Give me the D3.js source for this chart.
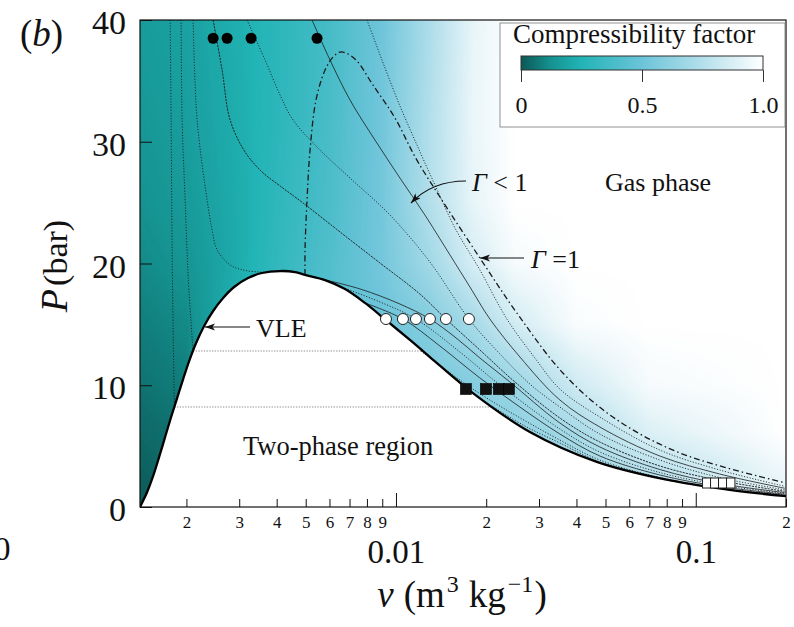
<!DOCTYPE html>
<html><head><meta charset="utf-8">
<script src="https://cdn.jsdelivr.net/npm/d3@7"></script>
<style>
body{margin:0;background:#fff}
svg{display:block}
text{font-family:"Liberation Serif","Times New Roman",serif;fill:#111}
</style>
</head><body>
<svg id="chart" width="794" height="627"></svg>
<script>
// ---------------- DATA (v in m^3/kg, P in bar) ----------------
const yTicks = [0, 10, 20, 30, 40];
const xMajorTicks = [0.01, 0.1];
const xMinorTicks = [0.002,0.003,0.004,0.005,0.006,0.007,0.008,0.009,0.02,0.03,0.04,0.05,0.06,0.07,0.08,0.09,0.2];
const cbarTicks = [0, 0.5, 1.0];

// VLE saturation dome
const vleV = [0.0014,0.001479,0.001549,0.001622,0.001698,0.001778,0.001862,0.00195,0.002042,0.002154,0.002291,0.002455,0.002651,0.002884,0.003211,0.003575,0.004105,0.004607,0.004973,0.0058,0.006761,0.007882,0.009333,0.01113,0.01298,0.01806,0.02797,0.04677,0.07762,0.1298,0.2];
const vleP = [0,1.23,2.55,4.11,5.75,7.39,8.95,10.51,11.99,13.47,14.87,16.10,17.17,18.07,18.81,19.22,19.38,19.30,19.06,18.64,17.9,16.76,15.28,13.72,12.32,9.36,6.16,3.70,2.30,1.40,0.89];

// two-phase plateaus
const plateauP = [12.81, 8.21];
const plateauVl = [0.002104, 0.001823];
const plateauVg = [0.01212, 0.02113];

// isotherms
const isoA_v = [0.001765,0.001778,0.001792,0.001810,0.001823];
const isoA_P = [40,31.79,21.11,12.9,8.21];
const isoB_v = [0.00192,0.001935,0.00198,0.002030,0.002104];
const isoB_P = [40,31.79,25.22,18.64,12.81];
const isoC_v = [0.002105,0.002171,0.002344,0.002436,0.002532,0.002797,0.00309,0.003467,0.003744];
const isoC_P = [40,31.79,25.22,22.75,21.11,19.88,19.47,19.30,19.26];
const isoAv_v = [0.02113,0.02692,0.03521,0.04786,0.07586,0.1202,0.1981];
const isoAv_P = [8.21,6.65,5.26,3.70,2.34,1.52,0.94];
const isoBv_v = [0.01212,0.01514,0.02057,0.03521,0.04786,0.07586,0.1202,0.1981];
const isoBv_P = [12.81,11.01,8.79,5.50,3.86,2.42,1.56,0.99];
const isoL2_v = [0.007881,0.01055,0.01402,0.01905,0.02591,0.03521,0.04786,0.07586,0.1202,0.1981];
const isoL2_P = [16.76,15.44,13.22,10.60,8.21,6.00,4.19,2.63,1.68,1.05];
const isoL3_v = [0.006507,0.008845,0.01166,0.01634,0.02222,0.03521,0.04786,0.07586,0.1202,0.1981];
const isoL3_P = [18.11,16.84,15.44,12.73,10.02,6.41,4.52,2.83,1.81,1.12];
const isoL4_v = [0.00537,0.007586,0.01031,0.01298,0.01573,0.01905,0.02399,0.03521,0.04786,0.07586,0.1202,0.1981];
const isoL4_P = [18.85,17.91,16.67,15.44,13.96,12.24,10.27,6.90,4.93,3.08,1.93,1.19];
const isoD_v = [0.002455,0.00263,0.002797,0.003138,0.003575,0.004105,0.004898,0.006507,0.008845,0.01202,0.01468,0.01905,0.02493,0.03521,0.04786,0.07586,0.1202,0.1981];
const isoD_P = [40,35.89,31.79,29.16,27.52,26.37,24.97,22.59,20.04,17.49,15.44,12.90,10.27,7.31,5.34,3.37,2.18,1.29];
const isoE_v = [0.003186,0.003659,0.004105,0.004536,0.00558,0.007026,0.00955,0.01298,0.01751,0.02222,0.02797,0.03521,0.04786,0.07586,0.1202,0.1981];
const isoE_P = [40,36.71,33.84,31.79,29.32,27.02,23.98,20.12,15.44,12.57,10.10,8.21,5.99,3.86,2.42,1.41];
const isoF_v = [0.005248,0.006026,0.007026,0.008511,0.01031,0.01249,0.01514,0.01765,0.02057,0.02591,0.03521,0.04786,0.07586,0.1202,0.1981];
const isoF_P = [40,36.71,33.43,30.14,27.02,23.98,20.70,18.07,15.44,12.32,8.79,6.57,4.19,2.71,1.54];
const isoG_v = [0.008004,0.009191,0.01031,0.01175,0.01349,0.01573,0.01905,0.02344,0.02906,0.03521,0.04786,0.07586,0.1202,0.1981];
const isoG_P = [40,36.06,32.94,29.73,26.45,22.92,19.47,15.44,12.24,9.69,7.39,4.68,3.04,1.70];

// Gamma = 1 locus
const gammaV = [0.004973,0.004973,0.00505,0.005168,0.005412,0.0058,0.006166,0.006507,0.006918,0.007413,0.00838,0.009925,0.01164,0.01402,0.01905,0.02532,0.03603,0.05289,0.08845,0.1981];
const gammaP = [19.06,21.11,25.22,29.32,33.43,35.89,36.96,37.37,37.21,36.63,34.66,31.95,28.66,25.46,20.45,15.93,11.01,7.39,4.44,2.0];

// markers
const blackDotsV = [0.002455,0.002733,0.003286,0.005454];
const blackDotsP = [38.5,38.5,38.5,38.5];
const whiteCirclesV = [0.009261,0.01055,0.01166,0.01298,0.01468,0.01751];
const whiteCirclesP = [15.44,15.44,15.44,15.44,15.44,15.44];
const blackSquaresV = [0.01711,0.01995,0.02204,0.0238];
const blackSquaresP = [9.69,9.69,9.69,9.69];
const whiteSquaresV = [0.1088,0.1157,0.123,0.1308];
const whiteSquaresP = [1.97,1.97,1.97,1.97];

// compressibility factor field (estimated grid)
const gridV = [0.0014,0.002,0.003,0.004,0.006,0.009,0.013,0.018,0.025,0.04,0.07,0.2];
const gridP = [40,32,25,20,15,10,6,3,0];
const zRow40 = [0.16,0.18,0.23,0.28,0.37,0.51,0.73,0.92,1,1,1,1];
const zRow32 = [0.145,0.17,0.225,0.28,0.38,0.52,0.75,0.93,1,1,1,1];
const zRow25 = [0.125,0.155,0.22,0.29,0.39,0.53,0.75,0.92,1,1,1,1];
const zRow20 = [0.105,0.135,0.22,0.30,0.41,0.53,0.69,0.86,0.97,1,1,1];
const zRow15 = [0.08,0.105,0.25,0.35,0.43,0.50,0.58,0.70,0.85,0.98,1,1];
const zRow10 = [0.055,0.08,0.30,0.38,0.45,0.52,0.55,0.58,0.66,0.84,0.97,1];
const zRow6  = [0.035,0.055,0.30,0.40,0.50,0.55,0.58,0.60,0.62,0.70,0.88,1];
const zRow3  = [0.02,0.04,0.30,0.40,0.50,0.55,0.60,0.62,0.65,0.68,0.76,0.95];
const zRow0  = [0.0,0.03,0.30,0.40,0.50,0.55,0.60,0.65,0.70,0.75,0.80,0.88];
const zStops = [0, 0.12, 0.25, 0.5, 0.75, 1];
const zColors = ["#0b5856","#14918f","#22b4b6","#6cc4d9","#b3dfeb","#ffffff"];

// ---------------- DRAWING ----------------
const svg = d3.select("#chart");
const L = 140, R = 786, T = 20, B = 507;
const x = d3.scaleLog().domain([0.0014, 0.2]).range([L, R]);
const y = d3.scaleLinear().domain([0, 40]).range([B, T]);
const cmap = d3.scaleLinear().domain(zStops).range(zColors).clamp(true);

// heatmap raster
const zGrid = [zRow40,zRow32,zRow25,zRow20,zRow15,zRow10,zRow6,zRow3,zRow0];
const cw = R - L, ch = B - T;
const canvas = document.createElement("canvas");
canvas.width = cw; canvas.height = ch;
const ctx = canvas.getContext("2d");
const img = ctx.createImageData(cw, ch);
const lv = gridV.map(Math.log10);
const ci = d3.scaleLinear().domain(lv).range(d3.range(lv.length)).clamp(true);
const ri = d3.scaleLinear().domain(gridP).range(d3.range(gridP.length)).clamp(true);
const lut = d3.range(256).map(k => d3.rgb(cmap(k/255)));
for (let j = 0; j < ch; j++) {
  const r = ri(y.invert(T + j + 0.5));
  const r0 = Math.min(Math.floor(r), gridP.length - 2), fr = r - r0;
  for (let i = 0; i < cw; i++) {
    const c = ci(Math.log10(x.invert(L + i + 0.5)));
    const c0 = Math.min(Math.floor(c), lv.length - 2), fc = c - c0;
    const z = (1-fr)*((1-fc)*zGrid[r0][c0] + fc*zGrid[r0][c0+1]) + fr*((1-fc)*zGrid[r0+1][c0] + fc*zGrid[r0+1][c0+1]);
    const col = lut[Math.max(0, Math.min(255, Math.round(z*255)))];
    const p = (j*cw + i)*4;
    img.data[p] = col.r; img.data[p+1] = col.g; img.data[p+2] = col.b; img.data[p+3] = 255;
  }
}
ctx.putImageData(img, 0, 0);
svg.append("image").attr("x", L).attr("y", T).attr("width", cw).attr("height", ch)
  .attr("preserveAspectRatio", "none").attr("href", canvas.toDataURL());

const defs = svg.append("defs");
defs.append("clipPath").attr("id", "clip").append("rect").attr("x", L).attr("y", T).attr("width", cw).attr("height", ch);
defs.append("marker").attr("id", "arr").attr("markerUnits", "userSpaceOnUse")
  .attr("markerWidth", 11).attr("markerHeight", 8).attr("refX", 10).attr("refY", 3.5).attr("orient", "auto")
  .append("path").attr("d", "M0,0 L10,3.5 L0,7 L2.5,3.5 z").attr("fill", "#111");

const g = svg.append("g").attr("clip-path", "url(#clip)");
const vle = d3.zip(vleV, vleP);
const domeCurve = d3.curveCatmullRom.alpha(0.5);

// white two-phase / below-dome region
g.append("path").attr("d", d3.area().x(d => x(d[0])).y0(y(0)).y1(d => y(d[1])).curve(domeCurve)(vle))
  .attr("fill", "#fff");

// plateau lines
plateauP.forEach((p, k) => {
  g.append("line").attr("x1", x(plateauVl[k])).attr("x2", x(plateauVg[k])).attr("y1", y(p)).attr("y2", y(p))
    .attr("stroke", "#8a8a8a").attr("stroke-width", 1.1).attr("stroke-dasharray", "1.3,1.4");
});

const lineGen = d3.line().x(d => x(d[0])).y(d => y(d[1])).curve(d3.curveCatmullRom.alpha(0.5));
function iso(vs, ps, dash, w) {
  g.append("path").attr("d", lineGen(d3.zip(vs, ps))).attr("fill", "none")
    .attr("stroke", "#1a1a1a").attr("stroke-width", w || 0.9).attr("stroke-dasharray", dash || null);
}
const dot = "1.1,1.7";
iso(isoA_v, isoA_P, dot);
iso(isoB_v, isoB_P, dot);
iso(isoC_v, isoC_P, dot);
iso(isoAv_v, isoAv_P, dot);
iso(isoBv_v, isoBv_P, dot);
iso(isoL2_v, isoL2_P, null, 0.8);
iso(isoL3_v, isoL3_P, dot);
iso(isoL4_v, isoL4_P, null, 0.8);
iso(isoD_v, isoD_P, "2.2,1", 0.9);
iso(isoE_v, isoE_P, dot);
iso(isoF_v, isoF_P, null, 0.8);
iso(isoG_v, isoG_P, dot);
// Gamma = 1 dash-dot
iso(gammaV, gammaP, "6,3,1.5,3", 1.3);

// dome
g.append("path").attr("d", d3.line().x(d => x(d[0])).y(d => y(d[1])).curve(domeCurve)(vle))
  .attr("fill", "none").attr("stroke", "#000").attr("stroke-width", 2.3);

// markers
d3.zip(blackDotsV, blackDotsP).forEach(d => g.append("circle").attr("cx", x(d[0])).attr("cy", y(d[1])).attr("r", 5.5).attr("fill", "#000"));
d3.zip(whiteCirclesV, whiteCirclesP).forEach(d => g.append("circle").attr("cx", x(d[0])).attr("cy", y(d[1])).attr("r", 5.5).attr("fill", "#fff").attr("stroke", "#222").attr("stroke-width", 1));
d3.zip(blackSquaresV, blackSquaresP).forEach(d => g.append("rect").attr("x", x(d[0]) - 5.5).attr("y", y(d[1]) - 5.5).attr("width", 11).attr("height", 11).attr("fill", "#111").attr("stroke", "#000").attr("stroke-width", 0.6));
d3.zip(whiteSquaresV, whiteSquaresP).forEach(d => g.append("rect").attr("x", x(d[0]) - 4.2).attr("y", y(d[1]) - 5).attr("width", 8.4).attr("height", 10).attr("fill", "#fff").attr("stroke", "#222").attr("stroke-width", 1));

// frame
svg.append("rect").attr("x", L).attr("y", T).attr("width", cw).attr("height", ch).attr("fill", "none").attr("stroke", "#111").attr("stroke-width", 1.2);

// axes
const yAxis = svg.append("g").attr("transform", `translate(${L},0)`)
  .call(d3.axisLeft(y).tickValues(yTicks).tickSize(-12).tickPadding(14).tickFormat(d3.format("d")));
yAxis.select(".domain").remove();
yAxis.selectAll("text").style("font-size", "34px").attr("dy", "0.4em").style("font-family", '"Liberation Serif",serif');

const xMin = svg.append("g").attr("transform", `translate(0,${B})`)
  .call(d3.axisBottom(x).tickValues(xMinorTicks).tickSize(-8).tickPadding(9).tickFormat(d => String(Math.round(d / Math.pow(10, Math.floor(Math.log10(d) + 1e-9))))));
xMin.select(".domain").remove();
xMin.selectAll("text").style("font-size", "17px").style("font-family", '"Liberation Serif",serif');

const xMaj = svg.append("g").attr("transform", `translate(0,${B})`)
  .call(d3.axisBottom(x).tickValues(xMajorTicks).tickSize(-14).tickPadding(33).tickFormat(d => String(d)));
xMaj.select(".domain").remove();
xMaj.selectAll("text").style("font-size", "33px").style("font-family", '"Liberation Serif",serif');
svg.selectAll(".tick line").attr("stroke", "#111");

// cut-off label at far left
svg.append("text").attr("x", -6).attr("y", 560).style("font-size", "33px").text("0");

// axis titles
const xt = svg.append("text").attr("x", 462).attr("y", 607).attr("text-anchor", "middle").style("font-size", "37px");
xt.append("tspan").style("font-style", "italic").text("v");
xt.append("tspan").attr("dx", 10).text("(m");
xt.append("tspan").attr("dy", -15).attr("dx", 2).style("font-size", "24px").text("3");
xt.append("tspan").attr("dy", 15).attr("dx", 10).text("kg");
xt.append("tspan").attr("dy", -15).attr("dx", 2).style("font-size", "24px").text("\u22121");
xt.append("tspan").attr("dy", 15).attr("dx", 1).text(")");

const yt = svg.append("text").attr("transform", "translate(67,266) rotate(-90)").attr("text-anchor", "middle").style("font-size", "38px");
yt.append("tspan").style("font-style", "italic").text("P");
yt.append("tspan").attr("dx", 3).style("font-size", "34px").text("(bar)");

const pb = svg.append("text").attr("x", 20).attr("y", 46).style("font-size", "37px");
pb.append("tspan").text("(");
pb.append("tspan").style("font-style", "italic").text("b");
pb.append("tspan").text(")");

// annotations
svg.append("text").attr("x", 256).attr("y", 337).style("font-size", "26px").text("VLE");
svg.append("line").attr("x1", 250).attr("y1", 327).attr("x2", 205).attr("y2", 327).attr("stroke", "#111").attr("stroke-width", 1.2).attr("marker-end", "url(#arr)");
svg.append("text").attr("x", 243).attr("y", 455).style("font-size", "26.5px").text("Two-phase region");
svg.append("text").attr("x", 605).attr("y", 191).style("font-size", "26px").text("Gas phase");
const g1 = svg.append("text").attr("x", 472).attr("y", 191).style("font-size", "26px");
g1.append("tspan").style("font-style", "italic").text("\u0393");
g1.append("tspan").text(" < 1");
svg.append("path").attr("d", "M466,181 Q432,181 411,203").attr("fill", "none").attr("stroke", "#111").attr("stroke-width", 1.2).attr("marker-end", "url(#arr)");
const g2 = svg.append("text").attr("x", 531).attr("y", 268).style("font-size", "26px");
g2.append("tspan").style("font-style", "italic").text("\u0393");
g2.append("tspan").text(" =1");
svg.append("line").attr("x1", 524).attr("y1", 258).attr("x2", 480).attr("y2", 258).attr("stroke", "#111").attr("stroke-width", 1.2).attr("marker-end", "url(#arr)");

// legend / colorbar
svg.append("rect").attr("x", 500).attr("y", 23).attr("width", 285).attr("height", 104).attr("fill", "#fff").attr("stroke", "#777").attr("stroke-width", 0.8);
const grad = defs.append("linearGradient").attr("id", "cg").attr("x1", "0%").attr("x2", "100%");
zStops.forEach((s, k) => grad.append("stop").attr("offset", (s * 100) + "%").attr("stop-color", zColors[k]));
const cb = d3.scaleLinear().domain([0, 1]).range([521, 763]);
svg.append("rect").attr("x", cb(0)).attr("y", 56).attr("width", cb(1) - cb(0)).attr("height", 14).attr("fill", "url(#cg)").attr("stroke", "#333").attr("stroke-width", 1);
const cbAxis = svg.append("g").attr("transform", "translate(0,70)")
  .call(d3.axisBottom(cb).tickValues(cbarTicks).tickSize(12).tickPadding(14).tickFormat((d, i) => i === 0 ? "0" : d3.format(".1f")(d)));
cbAxis.select(".domain").remove();
cbAxis.selectAll("line").attr("stroke", "#333");
cbAxis.selectAll("text").style("font-size", "24px").style("font-family", '"Liberation Serif",serif');
svg.append("text").attr("x", 513).attr("y", 43).style("font-size", "27px").text("Compressibility factor");
</script>
</body></html>
